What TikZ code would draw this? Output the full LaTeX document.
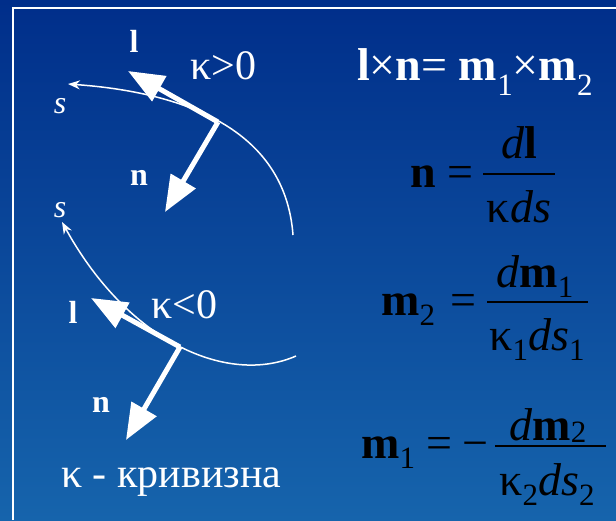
\documentclass[tikz,border=0pt]{standalone}
\usepackage{fontspec}
\setmainfont{Liberation Serif}
\usetikzlibrary{arrows.meta}
\definecolor{bgtop}{RGB}{0,46,138}
\definecolor{bgbot}{RGB}{22,100,172}
\newcommand{\lowsub}[2][10pt]{\raisebox{-#1}{\fontsize{31}{31}\selectfont #2}}

\begin{document}
\begin{tikzpicture}[x=1pt, y=-1pt,
  curve/.style={draw=white, line width=1.5pt, -{Stealth[length=12pt, width=9pt]}},
  vec/.style={draw=white, line width=5pt, -{Triangle[length=36pt, width=28pt]}},
  vlab/.style={text=white, inner sep=0pt, anchor=base, font=\fontsize{32}{36}\selectfont\bfseries},
  slab/.style={text=white, inner sep=0pt, anchor=base, font=\fontsize{32}{36}\selectfont\itshape},
  klab/.style={text=white, inner sep=0pt, anchor=base west, font=\fontsize{42}{46}\selectfont},
  eq/.style={text=black, inner sep=0pt, anchor=base, font=\fontsize{46}{50}\selectfont},
  bar/.style={draw=black, line width=2.5pt},
  frame/.style={draw=white, line width=2pt}
]
  % background and frame
  \shade[top color=bgtop, middle color=bgtop, bottom color=bgbot] (0,0) rectangle (616,520);
  \useasboundingbox (0,0) rectangle (616,520);
  \draw[frame] (616,8) -- (13,8) -- (13,520);

  % kappa > 0
  \coordinate (a0) at (293,235);
  \coordinate (a1) at (68,84);
  \draw[curve] (a0) .. controls (285,127) and (180,92) .. (a1);
  \coordinate (p) at (218,122);
  \coordinate (pl) at (128,71);
  \coordinate (pn) at (165,212);
  \draw[vec] (p) -- (pl);
  \draw[vec] (p) -- (pn);
  \node[vlab] (l1) at (134,52) {l};
  \node[klab] (k1) at (190,79) {κ>0};
  \node[slab] (s1) at (60,113) {s};
  \node[vlab] (n1) at (139,185) {n};

  % kappa < 0
  \coordinate (b0) at (296,356);
  \coordinate (b1) at (62,222);
  \draw[curve] (b0) .. controls (230,385) and (130,345) .. (b1);
  \coordinate (q) at (180,347);
  \coordinate (ql) at (91,298);
  \coordinate (qn) at (126,440);
  \draw[vec] (q) -- (ql);
  \draw[vec] (q) -- (qn);
  \node[slab] (s2) at (60,217) {s};
  \node[klab] (k2) at (151,318) {κ<0};
  \node[vlab] (l2) at (73,323) {l};
  \node[vlab] (n2) at (101,412) {n};
  \node[klab] (note) at (61,487) {κ - кривизна};

  % equations
  \node[eq, text=white, anchor=base west] (cross) at (357,80)
    {\textbf{l}×\textbf{n}= \textbf{m}\lowsub[15pt]{1}×\textbf{m}\lowsub[15pt]{2}};

  \node[eq] (nlhs) at (423,187) {\textbf{n}};
  \node[eq] (neq) at (460,187) {=};
  \node[eq] (nnum) at (519,158) {\textit{d}\textbf{l}};
  \node[eq] (nden) at (519,222) {κ\textit{ds}};
  \coordinate (nbl) at (483,174);
  \coordinate (nbr) at (555,174);
  \draw[bar] (nbl) -- (nbr);

  \node[eq, anchor=base west] (mtlhs) at (381,315) {\textbf{m}\lowsub{2}};
  \node[eq] (mteq) at (463,315) {=};
  \node[eq] (mtnum) at (535,287) {\textit{d}\textbf{m}\lowsub{1}};
  \node[eq] (mtden) at (537,350) {κ\lowsub{1}\textit{ds}\lowsub{1}};
  \coordinate (mtbl) at (487,302);
  \coordinate (mtbr) at (588,302);
  \draw[bar] (mtbl) -- (mtbr);

  \node[eq, anchor=base west] (molhs) at (361,458) {\textbf{m}\lowsub{1}};
  \node[eq] (moeq) at (439,458) {=};
  \node[eq] (moneg) at (475,458) {−};
  \node[eq] (monum) at (548,440) {\textit{d}\textbf{m}\lowsub[2pt]{2}};
  \node[eq] (moden) at (547,495) {κ\lowsub{2}\textit{ds}\lowsub{2}};
  \coordinate (mobl) at (495,446);
  \coordinate (mobr) at (606,446);
  \draw[bar] (mobl) -- (mobr);
\end{tikzpicture}
\end{document}
